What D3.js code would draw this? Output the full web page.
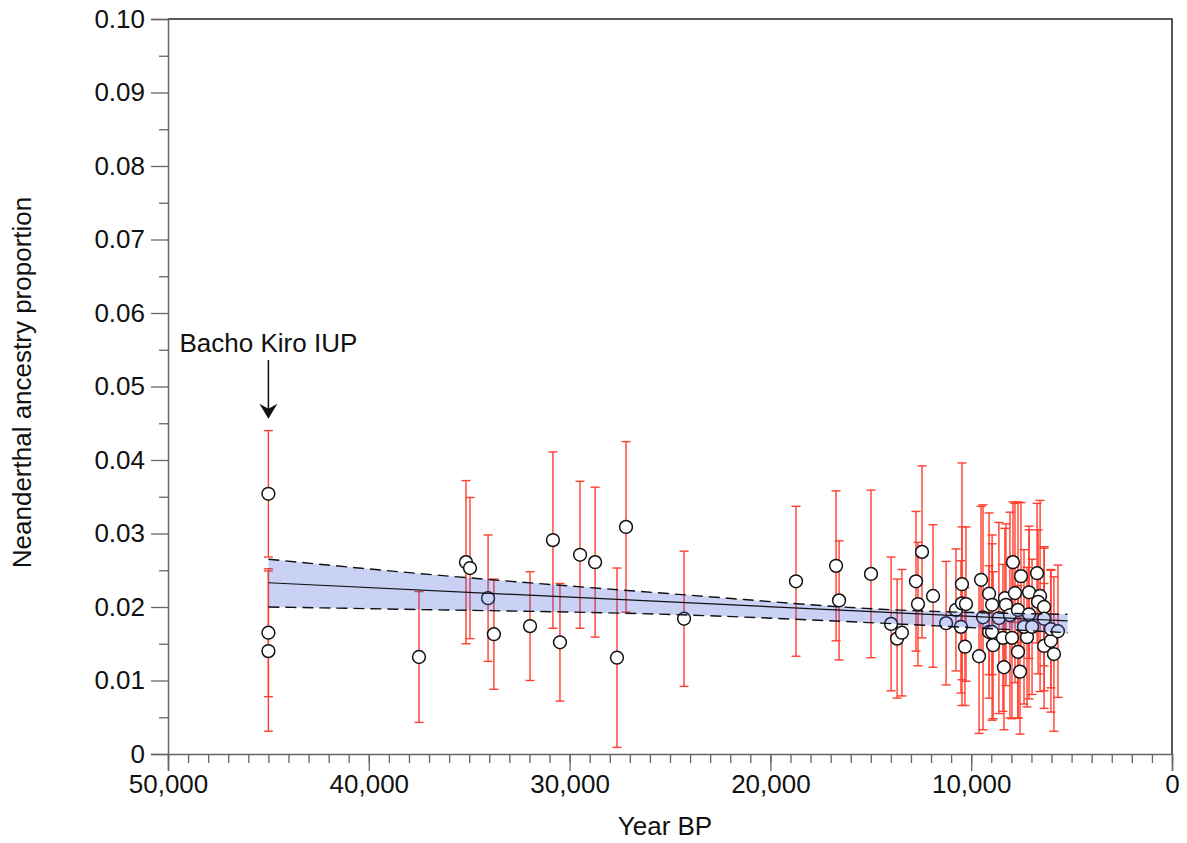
<!DOCTYPE html>
<html>
<head>
<meta charset="utf-8">
<script src="https://cdn.jsdelivr.net/npm/d3@7"></script>
<style>
	body { margin: 0; background: #fff; }
	svg { display: block; font-family: 'Liberation Sans', Arial, Helvetica, sans-serif; }
</style>
</head>
<body>
<svg id="chart" width="1187" height="843"></svg>
<script>
// samples: year BP, estimate, half width of the error bar
const years = [
	45000, 45000, 45000, 37500, 35160, 34960, 34060, 33770, 31970, 30830,
	30480, 29480, 28730, 27640, 27190, 24300, 18725, 16730, 16580, 14990,
	13990, 13690, 13450, 12750, 12650, 12450,
	11900, 11250, 10760, 10460, 10460, 10260, 10510, 10310, 9610, 9510,
	9410, 9110, 8960, 9110, 8960, 8910, 8620, 8320, 8270, 8420,
	8370, 7920, 7820, 8070, 7970, 7670, 7670, 7570, 7520, 7120,
	7220, 7120, 7370, 6720, 6570, 6670, 6370, 6370, 6370, 6030,
	6030, 5880, 5680, 6970
];
const values = [
	0.0354, 0.0165, 0.0140, 0.0132, 0.0261, 0.0253, 0.0212, 0.0163, 0.0174, 0.0291,
	0.0152, 0.0271, 0.0261, 0.0131, 0.0309, 0.0184, 0.0235, 0.0256, 0.0209, 0.0245,
	0.0177, 0.0157, 0.0165, 0.0235, 0.0204, 0.0275,
	0.0215, 0.0178, 0.0196, 0.0231, 0.0205, 0.0204, 0.0173, 0.0146, 0.0133, 0.0237,
	0.0186, 0.0218, 0.0203, 0.0166, 0.0166, 0.0148, 0.0185, 0.0212, 0.0203, 0.0158,
	0.0118, 0.0261, 0.0219, 0.0189, 0.0158, 0.0196, 0.0139, 0.0112, 0.0242, 0.0190,
	0.0159, 0.0220, 0.0173, 0.0246, 0.0215, 0.0207, 0.0200, 0.0184, 0.0147, 0.0154,
	0.0170, 0.0136, 0.0167, 0.0173
];
const errors = [
	0.0086, 0.0087, 0.0109, 0.0089, 0.0111, 0.0096, 0.0086, 0.0075, 0.0074, 0.0120,
	0.0080, 0.0100, 0.0102, 0.0122, 0.0116, 0.0092, 0.0102, 0.0102, 0.0081, 0.0114,
	0.0091, 0.0081, 0.0086, 0.0095, 0.0084, 0.0117,
	0.0097, 0.0084, 0.0083, 0.0165, 0.0104, 0.0105, 0.0090, 0.0080, 0.0105, 0.0100,
	0.0153, 0.0110, 0.0095, 0.0090, 0.0120, 0.0100, 0.0130, 0.0095, 0.0110, 0.0100,
	0.0085, 0.0082, 0.0122, 0.0140, 0.0110, 0.0147, 0.0090, 0.0085, 0.0100, 0.0115,
	0.0095, 0.0090, 0.0105, 0.0095, 0.0130, 0.0098, 0.0080, 0.0098, 0.0085, 0.0097,
	0.0080, 0.0105, 0.0090, 0.0092
];

// regression line and its confidence band
const fitYears = [ 45000, 5200 ];
const fitValues = [ 0.0233, 0.0181 ];
const bandYears = [ 45000, 38500, 24000, 14500, 5200 ];
const bandUpper = [ 0.0265, 0.0248, 0.0216, 0.0197, 0.0190 ];
const bandLower = [ 0.0200, 0.0197, 0.0189, 0.0178, 0.0165 ];

// axes
const xMajorTicks = [ 50000, 40000, 30000, 20000, 10000, 0 ];
const xMinorTicks = d3.range(0, 50001, 1000);
const yMajorTicks = [ 0, 0.01, 0.02, 0.03, 0.04, 0.05, 0.06, 0.07, 0.08, 0.09, 0.10 ];
const yMinorTicks = [ 0.005, 0.015, 0.025, 0.035, 0.045, 0.055, 0.065, 0.075, 0.085, 0.095 ];
const yTickLabels = [ '0', '0.01', '0.02', '0.03', '0.04', '0.05', '0.06', '0.07', '0.08', '0.09', '0.10' ];

// annotation
const noteText = 'Bacho Kiro IUP';
const noteYear = 45000;
const noteTextValue = 0.0547;
const noteArrowFrom = 0.0536;
const noteArrowTo = 0.0456;

const Chart = {
	margin: { top: 19, right: 15, bottom: 89, left: 168 },
	width: null, height: null,
	xScale: null, yScale: null,
	svgGroup: null,

	init: function() {
		const self = this;
		let margin = self.margin;
		let svg = d3.select('#chart');

		self.width = +svg.attr('width') - margin.left - margin.right;
		self.height = +svg.attr('height') - margin.top - margin.bottom;
		self.xScale = d3.scaleLinear().domain([ 50000, 0 ]).range([ 0, self.width ]);
		self.yScale = d3.scaleLinear().domain([ 0, 0.1 ]).range([ self.height, 0 ]);
		self.svgGroup = svg.append('g')
			.attr('transform', 'translate(' + margin.left + ',' + margin.top + ')');

		self.drawAxes();
		self.drawPoints();
		self.drawFit();
		self.drawNote();
	},

	drawAxes: function() {
		const self = this;
		let g = self.svgGroup;
		let xScale = self.xScale;
		let yScale = self.yScale;
		let width = self.width;
		let height = self.height;

		// frame top and right
		g.append('path')
			.attr('d', 'M0,0H' + width + 'V' + height)
			.style('fill', 'none')
			.style('stroke', '#222')
			.style('stroke-width', 1.5);

		let xMinor = g.append('g')
			.attr('transform', 'translate(0,' + height + ')')
			.call(d3.axisBottom(xScale).tickValues(xMinorTicks).tickSize(9).tickFormat(''));
		let xMajor = g.append('g')
			.attr('transform', 'translate(0,' + height + ')')
			.call(d3.axisBottom(xScale).tickValues(xMajorTicks).tickSize(17).tickPadding(4)
				.tickFormat(d3.format(',')));
		let yMinor = g.append('g')
			.call(d3.axisLeft(yScale).tickValues(yMinorTicks).tickSize(9).tickFormat(''));
		let yMajor = g.append('g')
			.call(d3.axisLeft(yScale).tickValues(yMajorTicks).tickSize(17).tickPadding(6)
				.tickFormat(function(d, i) { return yTickLabels[i]; }));

		[ xMinor, xMajor, yMinor, yMajor ].forEach(function(a) {
			a.select('.domain').style('stroke', '#666').style('stroke-width', 1.5);
			a.selectAll('.tick line').style('stroke', '#666').style('stroke-width', 1.3);
			a.selectAll('.tick text')
				.style('fill', '#111')
				.style('font-size', '26px');
		});
		xMinor.select('.domain').remove();
		yMinor.select('.domain').remove();

		g.append('text')
			.attr('x', width / 2 - 5)
			.attr('y', height + 81)
			.style('text-anchor', 'middle')
			.style('font-size', '26px')
			.style('fill', '#111')
			.text('Year BP');
		g.append('text')
			.attr('transform', 'rotate(-90)')
			.attr('x', -(height / 2) + 4)
			.attr('y', -137)
			.style('text-anchor', 'middle')
			.style('font-size', '26px')
			.style('fill', '#111')
			.text('Neanderthal ancestry proportion');
	},

	drawPoints: function() {
		const self = this;
		let g = self.svgGroup;
		let xScale = self.xScale;
		let yScale = self.yScale;
		let data = years.map(function(d, i) {
			return { year: d, value: values[i], err: errors[i] };
		});
		let cap = 4.5;

		let bars = g.append('g')
			.style('stroke', '#ff2412')
			.style('stroke-width', 1.4)
			.style('opacity', 0.88);
		bars.selectAll('.err-line')
			.data(data)
			.enter().append('line')
			.attr('class', 'err-line')
			.attr('x1', function(d) { return xScale(d.year); })
			.attr('x2', function(d) { return xScale(d.year); })
			.attr('y1', function(d) { return yScale(d.value - d.err); })
			.attr('y2', function(d) { return yScale(d.value + d.err); });
		bars.selectAll('.err-top')
			.data(data)
			.enter().append('line')
			.attr('class', 'err-top')
			.attr('x1', function(d) { return xScale(d.year) - cap; })
			.attr('x2', function(d) { return xScale(d.year) + cap; })
			.attr('y1', function(d) { return yScale(d.value + d.err); })
			.attr('y2', function(d) { return yScale(d.value + d.err); });
		bars.selectAll('.err-bottom')
			.data(data)
			.enter().append('line')
			.attr('class', 'err-bottom')
			.attr('x1', function(d) { return xScale(d.year) - cap; })
			.attr('x2', function(d) { return xScale(d.year) + cap; })
			.attr('y1', function(d) { return yScale(d.value - d.err); })
			.attr('y2', function(d) { return yScale(d.value - d.err); });

		g.selectAll('.dot')
			.data(data)
			.enter().append('circle')
			.attr('class', 'dot')
			.attr('cx', function(d) { return xScale(d.year); })
			.attr('cy', function(d) { return yScale(d.value); })
			.attr('r', 6.4)
			.style('fill', '#fff')
			.style('stroke', '#111')
			.style('stroke-width', 1.5);
	},

	drawFit: function() {
		const self = this;
		let g = self.svgGroup;
		let xScale = self.xScale;
		let yScale = self.yScale;
		let band = bandYears.map(function(d, i) {
			return { year: d, lo: bandLower[i], hi: bandUpper[i] };
		});

		let area = d3.area()
			.x(function(d) { return xScale(d.year); })
			.y0(function(d) { return yScale(d.lo); })
			.y1(function(d) { return yScale(d.hi); })
			.curve(d3.curveMonotoneX);
		g.append('path')
			.datum(band)
			.attr('d', area)
			.style('fill', 'rgb(60,90,220)')
			.style('opacity', 0.28);

		[ 'hi', 'lo' ].forEach(function(key) {
			let line = d3.line()
				.x(function(d) { return xScale(d.year); })
				.y(function(d) { return yScale(d[key]); })
				.curve(d3.curveMonotoneX);
			g.append('path')
				.datum(band)
				.attr('d', line)
				.style('fill', 'none')
				.style('stroke', '#111')
				.style('stroke-width', 1.4)
				.style('stroke-dasharray', '11,6');
		});

		let fit = d3.line()
			.x(function(d, i) { return xScale(fitYears[i]); })
			.y(function(d) { return yScale(d); });
		g.append('path')
			.datum(fitValues)
			.attr('d', fit)
			.style('fill', 'none')
			.style('stroke', '#111')
			.style('stroke-width', 1.2);
	},

	drawNote: function() {
		const self = this;
		let g = self.svgGroup;
		let x = self.xScale(noteYear);
		let y0 = self.yScale(noteArrowFrom);
		let y1 = self.yScale(noteArrowTo);

		g.append('text')
			.attr('x', x)
			.attr('y', self.yScale(noteTextValue))
			.style('text-anchor', 'middle')
			.style('font-size', '26px')
			.style('fill', '#111')
			.text(noteText);
		g.append('line')
			.attr('x1', x).attr('x2', x)
			.attr('y1', y0).attr('y2', y1 - 6)
			.style('stroke', '#111')
			.style('stroke-width', 1.5);
		g.append('path')
			.attr('d', 'M' + x + ',' + y1 + 'l-9,-15l9,5l9,-5z')
			.style('fill', '#111');
	}
};

Chart.init();
</script>
</body>
</html>
